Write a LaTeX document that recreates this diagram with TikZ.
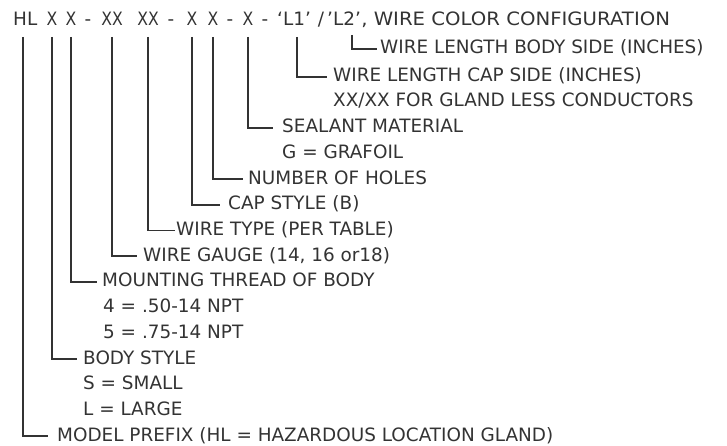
\documentclass[tikz,border=0pt]{standalone}
\usepackage{fontspec}
\setmainfont{DejaVu Sans}
\newfontfamily\codefont{DejaVu Sans}[FakeStretch=0.85]
\newfontfamily\widefont{DejaVu Sans}[FakeStretch=1.07]
\usetikzlibrary{positioning}
\definecolor{ink}{HTML}{333333}

\begin{document}
\begin{tikzpicture}[x=1pt,y=-1pt,
  every node/.style={font=\fontsize{18.4}{20}\selectfont,text=ink,inner sep=0pt},
  token/.style={anchor=base},
  xtoken/.style={anchor=base,font=\fontsize{18.4}{20}\codefont},
  field/.style={anchor=west,text height=13pt,text depth=3pt,inner xsep=#1},
  field/.default=0pt,
  lead/.style={draw=ink,line width=1.8pt}
]
  \useasboundingbox (0,0) rectangle (727,446);
  % part number code
  \node[token,anchor=base west] (hl) at (13,26) {HL};
  \foreach \x/\t in {52/X,71/X,112/XX,148/XX,192/X,213/X,248/X}
    \node[xtoken] (k\x) at (\x,26) {\t};
  \foreach \x in {88,171,230,265}
    \node[token] (d\x) at (\x,26) {-};
  \node[token,anchor=base west] (lone)  at (277,26) {‘L1’};
  \node[token]                  (slash) at (321,26) {/};
  \node[token,anchor=base west] (ltwo)  at (327,26) {’L2’};
  \node[anchor=base west,font=\fontsize{18.4}{20}\widefont] (conf) at (ltwo.base east) {, WIRE COLOR CONFIGURATION};
  \coordinate (tpre)    at (23,37);
  \coordinate (tbody)   at (52,37);
  \coordinate (tthread) at (71,37);
  \coordinate (tgauge)  at (112,37);
  \coordinate (ttype)   at (148,37);
  \coordinate (tcap)    at (192,37);
  \coordinate (tholes)  at (213,37);
  \coordinate (tseal)   at (248,37);
  \coordinate (tlcap)   at (297,37);
  \coordinate (tlbody)  at (352,35);
  % descriptions
  \node[field=3pt] (lbody)  at (377,49)    {WIRE LENGTH BODY SIDE (INCHES)};
  \node[field=6pt] (lcap)   at (327,77)    {WIRE LENGTH CAP SIDE (INCHES)};
  \node[field]     (lnone)  at (333,102)   {XX/XX FOR GLAND LESS CONDUCTORS};
  \node[field=9pt] (seal)   at (273,127.7) {SEALANT MATERIAL};
  \node[field]     (sealg)  at (282,153.4) {G = GRAFOIL};
  \node[field=5pt] (holes)  at (243,179.1) {NUMBER OF HOLES};
  \node[field=8pt] (cap)    at (220,204.8) {CAP STYLE (B)};
  \node[field=1pt] (type)   at (175,230.5) {WIRE TYPE (PER TABLE)};
  \node[field=6pt] (gauge)  at (137,256.2) {WIRE GAUGE (14, 16 or18)};
  \node[field=5pt] (thread) at (97,281.9)  {MOUNTING THREAD OF BODY};
  \node[field]     (thrd4)  at (103,307.6) {4 = .50-14 NPT};
  \node[field]     (thrd5)  at (103,333.3) {5 = .75-14 NPT};
  \node[field=6pt] (body)   at (77,359)    {BODY STYLE};
  \node[field]     (bodys)  at (83,384.7)  {S = SMALL};
  \node[field]     (bodyl)  at (83,410.4)  {L = LARGE};
  \node[field=9pt] (pre)    at (48,436.1)  {MODEL PREFIX (HL = HAZARDOUS LOCATION GLAND)};
  % leaders
  \draw[lead] (tlbody)  |- (lbody.west);
  \draw[lead] (tlcap)   |- (lcap.west);
  \draw[lead] (tseal)   |- (seal.west);
  \draw[lead] (tholes)  |- (holes.west);
  \draw[lead] (tcap)    |- (cap.west);
  \draw[lead] (ttype)   |- (type.west);
  \draw[lead] (tgauge)  |- (gauge.west);
  \draw[lead] (tthread) |- (thread.west);
  \draw[lead] (tbody)   |- (body.west);
  \draw[lead] (tpre)    |- (pre.west);
\end{tikzpicture}
\end{document}
